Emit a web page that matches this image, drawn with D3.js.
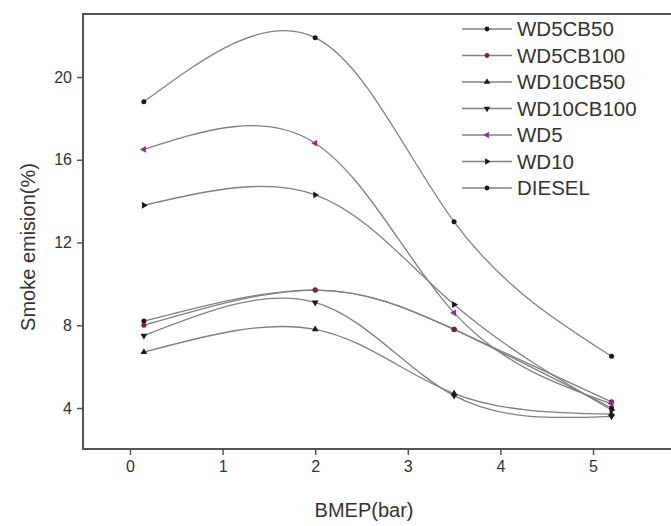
<!DOCTYPE html>
<html><head><meta charset="utf-8">
<script src="https://cdn.jsdelivr.net/npm/d3@7"></script>
<style>
html,body{margin:0;padding:0;background:#fff;}
svg{display:block;font-family:"Liberation Sans",Arial,sans-serif;}
</style></head>
<body><svg id="c" width="671" height="526"></svg>
<script>
const bmep = [0.15, 2, 3.5, 5.2];
const seriesNames = ["WD5CB50","WD5CB100","WD10CB50","WD10CB100","WD5","WD10","DIESEL"];
const WD5CB50   = [8.2, 9.7, 7.8, 4.0];
const WD5CB100  = [8.0, 9.7, 7.8, 4.3];
const WD10CB50  = [6.7, 7.8, 4.7, 3.7];
const WD10CB100 = [7.5, 9.1, 4.6, 3.6];
const WD5       = [16.5, 16.8, 8.6, 4.2];
const WD10      = [13.8, 14.3, 9.0, 3.9];
const DIESEL    = [18.8, 21.9, 13.0, 6.5];
const xTicks = [0,1,2,3,4,5];
const yTicks = [4,8,12,16,20];

const values = [WD5CB50, WD5CB100, WD10CB50, WD10CB100, WD5, WD10, DIESEL];
const markerColor = ["#1a1a1a","#8a1a3c","#1a1a1a","#1a1a1a","#9a2a8c","#1a1a1a","#1a1a1a"];
const markerType = [d3.symbolCircle, d3.symbolCircle, d3.symbolTriangle, "down", "left", "right", d3.symbolCircle];

const svg = d3.select("#c");
const L = 83, T = 14, R = 674, B = 449;
const x = d3.scaleLinear().domain([0,5]).range([130, 593]);
const y = d3.scaleLinear().domain([4,20]).range([408, 77]);

// frame
svg.append("rect").attr("x",L).attr("y",T).attr("width",R-L).attr("height",B-T)
  .attr("fill","none").attr("stroke","#555").attr("stroke-width",2);

// axes
const xa = svg.append("g").attr("transform",`translate(0,${B})`)
  .call(d3.axisBottom(x).tickValues(xTicks).tickSize(6).tickPadding(6).tickFormat(d3.format("d")));
xa.select(".domain").remove();
const ya = svg.append("g").attr("transform",`translate(${L},0)`)
  .call(d3.axisLeft(y).tickValues(yTicks).tickSize(6).tickPadding(5).tickFormat(d3.format("d")));
ya.select(".domain").remove();
svg.selectAll(".tick line").attr("stroke","#555").attr("stroke-width",1.5);
svg.selectAll(".tick text").attr("font-size",16).attr("fill","#333")
  .attr("font-family","'Liberation Sans',Arial,sans-serif");

svg.append("text").attr("x",364).attr("y",517).attr("text-anchor","middle")
  .attr("font-size",20).attr("fill","#333").text("BMEP(bar)");
svg.append("text").attr("transform",`translate(35,247) rotate(-90)`)
  .attr("text-anchor","middle").attr("font-size",20).attr("fill","#333").text("Smoke emision(%)");

function sym(t){
  if (t==="down") return {type:d3.symbolTriangle, rot:180};
  if (t==="left") return {type:d3.symbolTriangle, rot:-90};
  if (t==="right") return {type:d3.symbolTriangle, rot:90};
  return {type:t, rot:0};
}

const line = d3.line().x((d,i)=>x(bmep[i])).y(d=>y(d)).curve(d3.curveNatural);
const plot = svg.append("g");
values.forEach((vals,si)=>{
  plot.append("path").attr("d",line(vals)).attr("fill","none")
    .attr("stroke","#808080").attr("stroke-width",1.3);
});
values.forEach((vals,si)=>{
  const s = sym(markerType[si]);
  vals.forEach((v,i)=>{
    plot.append("path").attr("d",d3.symbol().type(s.type).size(20)())
      .attr("transform",`translate(${x(bmep[i])},${y(v)}) rotate(${s.rot})`)
      .attr("fill",markerColor[si]);
  });
});

// legend
const lg = svg.append("g");
seriesNames.forEach((n,i)=>{
  const yy = 29 + i*26.5;
  lg.append("line").attr("x1",462).attr("x2",512).attr("y1",yy).attr("y2",yy)
    .attr("stroke","#808080").attr("stroke-width",1.3);
  const s = sym(markerType[i]);
  lg.append("path").attr("d",d3.symbol().type(s.type).size(18)())
    .attr("transform",`translate(487,${yy}) rotate(${s.rot})`).attr("fill",markerColor[i]);
  lg.append("text").attr("x",517).attr("y",yy+7).attr("font-size",20.5).attr("fill","#333").text(n);
});
</script></body></html>
